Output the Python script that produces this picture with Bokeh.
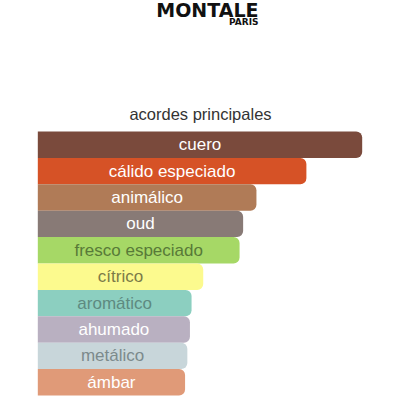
from bokeh.plotting import figure
from bokeh.models import Range1d, ColumnDataSource
from bokeh.core.properties import value
from bokeh.embed import file_html
from bokeh.resources import INLINE

accords = ["cuero", "cálido especiado", "animálico", "oud", "fresco especiado",
           "cítrico", "aromático", "ahumado", "metálico", "ámbar"]
strengths = [100, 82.8, 67.4, 63.3, 62.2, 51.0, 47.4, 46.9, 46.1, 45.4]
bar_colors = ["#7a4a3c", "#d65226", "#b07b57", "#887a76", "#a6d866",
              "#fcfa8e", "#8ccfc0", "#b9b0c1", "#c8d6da", "#e09a78"]
text_colors = ["#ffffff", "#ffffff", "#ffffff", "#ffffff", "#587a38",
               "#7b7a48", "#5e8a80", "#ffffff", "#7c8a8c", "#ffffff"]
title_text = "acordes principales"
brand = "MONTALE"
brand_sub = "PARIS"

idx = list(range(len(accords)))
src = ColumnDataSource(dict(
    y=idx,
    right=strengths,
    mid=[s / 2 for s in strengths],
    label=accords,
    color=bar_colors,
    tcolor=text_colors,
))

p = figure(width=400, height=400, output_backend="svg", toolbar_location=None,
           x_range=Range1d(-11.5, 111.81), y_range=Range1d(9.689, -5.462),
           min_border=0, outline_line_color=None)
p.axis.visible = False
p.grid.visible = False
p.background_fill_color = "#ffffff"
p.border_fill_color = "#ffffff"

p.hbar(y="y", left=0, right="right", height=1.0, fill_color="color",
       line_color=None, source=src, border_radius=(0, 6, 6, 0))
p.text(x="mid", y="y", text="label", text_color="tcolor", source=src,
       text_align="center", text_baseline="middle", text_font_size="17px",
       text_font=value("Liberation Sans"))

p.text(x=[50.15], y=[-1.18], text=[title_text], text_align="center",
       text_baseline="middle", text_font_size="16.5px", text_color="#333333",
       text_font=value("Liberation Sans"))
p.text(x=[68.03], y=[-5.09], text=[brand], text_align="right",
       text_baseline="middle", text_font_size="19px", text_color="#111111",
       text_font=value("DejaVu Sans"), text_font_style="bold")
p.text(x=[68.03], y=[-4.63], text=[brand_sub], text_align="right",
       text_baseline="middle", text_font_size="9px", text_color="#111111",
       text_font=value("DejaVu Sans"), text_font_style="bold")

open("out.html", "w").write(file_html(p, INLINE))
